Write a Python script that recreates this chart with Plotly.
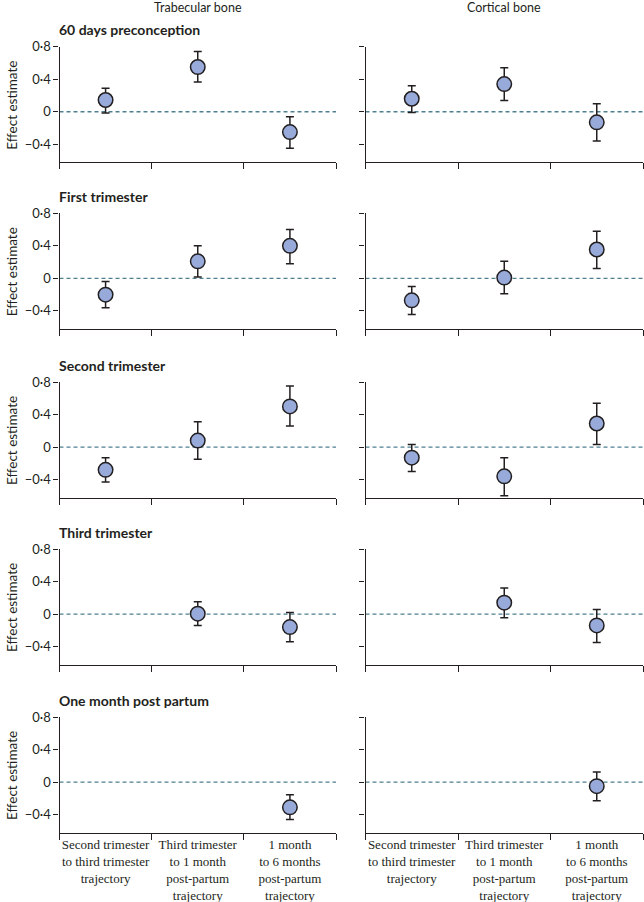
import plotly.graph_objects as go
from plotly.subplots import make_subplots

# x categories (trajectories)
categories = [
    "Second trimester<br>to third trimester<br>trajectory",
    "Third trimester<br>to 1 month<br>post-partum<br>trajectory",
    "1 month<br>to 6 months<br>post-partum<br>trajectory",
]
timepoints = ["60 days preconception", "First trimester", "Second trimester",
              "Third trimester", "One month post partum"]
bone_types = ["Trabecular bone", "Cortical bone"]

# effect estimates and 95% CI, one row per timepoint
trab_est = [[0.145, 0.55, -0.25], [-0.20, 0.21, 0.40], [-0.28, 0.08, 0.50],
            [None, 0.005, -0.16], [None, None, -0.31]]
trab_low = [[-0.015, 0.365, -0.45], [-0.36, 0.016, 0.18], [-0.43, -0.15, 0.26],
            [None, -0.14, -0.34], [None, None, -0.46]]
trab_high = [[0.29, 0.74, -0.06], [-0.037, 0.40, 0.60], [-0.13, 0.31, 0.75],
             [None, 0.15, 0.02], [None, None, -0.157]]

cort_est = [[0.16, 0.34, -0.13], [-0.27, 0.01, 0.355], [-0.13, -0.36, 0.29],
            [None, 0.14, -0.14], [None, None, -0.05]]
cort_low = [[-0.01, 0.14, -0.36], [-0.445, -0.19, 0.12], [-0.30, -0.60, 0.033],
            [None, -0.045, -0.35], [None, None, -0.23]]
cort_high = [[0.32, 0.54, 0.10], [-0.10, 0.21, 0.58], [0.033, -0.13, 0.54],
             [None, 0.32, 0.057], [None, None, 0.124]]

ytick_vals = [-0.4, 0, 0.4, 0.8]
ytick_text = ["\u22120\u00b74", "0", "0\u00b74", "0\u00b78"]

W, H = 644, 902
INK = "#231f20"
FILL = "#97aad9"
ZERO = "#4f7f90"
FONT = "Lato"

fig = make_subplots(rows=5, cols=2)

col_px = [(59.5, 336.0), (365.5, 643.0)]
row_tops = [46.7, 213.3, 382.0, 549.0, 717.0]
panel_h = 115.5


def err(est, low, high):
    plus = [None if e is None else h - e for e, h in zip(est, high)]
    minus = [None if e is None else e - l for e, l in zip(est, low)]
    return plus, minus


series = [(trab_est, trab_low, trab_high), (cort_est, cort_low, cort_high)]

for r in range(5):
    for c in range(2):
        est, low, high = (s[r] for s in series[c])
        plus, minus = err(est, low, high)
        fig.add_trace(go.Scatter(
            x=categories, y=est, mode="markers",
            marker=dict(size=14.5, color=FILL, line=dict(color=INK, width=1.5)),
            error_y=dict(type="data", array=plus, arrayminus=minus,
                         color=INK, thickness=1.5, width=4),
            showlegend=False, hoverinfo="skip",
        ), row=r + 1, col=c + 1)

        x0, x1 = col_px[c]
        top = row_tops[r]
        bot = top + panel_h
        fig.update_xaxes(
            domain=[x0 / W, x1 / W], type="category",
            categoryorder="array", categoryarray=categories,
            range=[-0.5, 2.5], tickson="boundaries",
            ticks="outside", ticklen=6, tickwidth=1.3, tickcolor=INK,
            showline=True, linecolor=INK, linewidth=1.3,
            showgrid=False, zeroline=False, automargin=False,
            showticklabels=(r == 4), tickangle=0,
            tickfont=dict(family="Liberation Serif", size=13, color=INK),
            row=r + 1, col=c + 1)
        fig.update_yaxes(
            domain=[1 - bot / H, 1 - top / H],
            range=[-0.62, 0.8],
            tickvals=ytick_vals, ticktext=ytick_text,
            ticks="outside", ticklen=5, tickwidth=1.3, tickcolor=INK,
            showline=True, linecolor=INK, linewidth=1.3,
            showgrid=False, zeroline=False, automargin=False,
            showticklabels=(c == 0),
            tickfont=dict(family=FONT, size=13, color=INK),
            row=r + 1, col=c + 1)

        # dashed zero reference line
        n = r * 2 + c + 1
        sfx = "" if n == 1 else str(n)
        fig.add_shape(type="line", xref=f"x{sfx} domain", yref=f"y{sfx}",
                      x0=0, x1=1, y0=0, y1=0,
                      line=dict(color=ZERO, width=1.3, dash="4px,3px"),
                      layer="below")

    # panel title
    fig.add_annotation(text=f"<b>{timepoints[r]}</b>", xref="paper", yref="paper",
                       x=57 / W, y=1 - (row_tops[r] - 17) / H,
                       xanchor="left", yanchor="middle", showarrow=False,
                       font=dict(family=FONT, size=14, color=INK))
    # y-axis title
    fig.add_annotation(text="Effect estimate", xref="paper", yref="paper",
                       x=12 / W, y=1 - (row_tops[r] + 59) / H, textangle=-90,
                       xanchor="center", yanchor="middle", showarrow=False,
                       font=dict(family=FONT, size=13.5, color=INK))

for c in range(2):
    x0, x1 = col_px[c]
    fig.add_annotation(text=bone_types[c], xref="paper", yref="paper",
                       x=(x0 + x1) / 2 / W, y=1 - 7 / H,
                       xanchor="center", yanchor="middle", showarrow=False,
                       font=dict(family=FONT, size=12.5, color=INK))

fig.update_layout(
    width=W, height=H,
    margin=dict(l=0, r=0, t=0, b=0),
    paper_bgcolor="white", plot_bgcolor="white",
    font=dict(family=FONT, color=INK),
)

# drop the default page margin so the figure sits at the window's corner
fig.write_html("out.html", config={"displayModeBar": False},
               post_script="document.body.style.margin='0px';")
